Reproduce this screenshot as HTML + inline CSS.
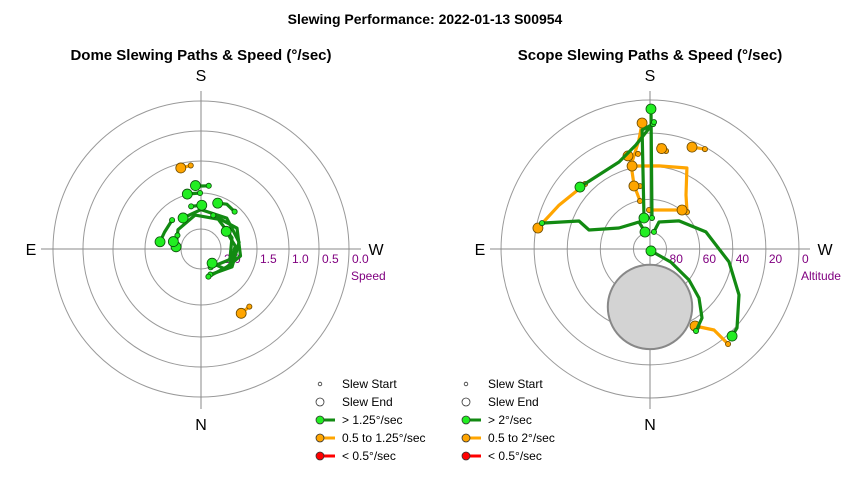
<!DOCTYPE html>
<html><head><meta charset="utf-8">
<style>
body{margin:0;background:#fff;}
svg text{font-family:"Liberation Sans",Arial,sans-serif;}
</style></head>
<body>
<svg id="chart" width="850" height="480" viewBox="0 0 850 480" xmlns="http://www.w3.org/2000/svg">
<rect width="850" height="480" fill="#fff"/>
<text x="425" y="24" font-size="14" font-weight="bold" text-anchor="middle">Slewing Performance: 2022-01-13 S00954</text>
<text x="201" y="60" font-size="15" font-weight="bold" text-anchor="middle">Dome Slewing Paths &amp; Speed (°/sec)</text>
<text x="650" y="60" font-size="15" font-weight="bold" text-anchor="middle">Scope Slewing Paths &amp; Speed (°/sec)</text>
<g id="dome"></g>
<g id="scope"></g>
<g id="legends"></g>
</svg>
<script>
// ---- Dome data: [azimuth deg, speed deg/sec]
const domeTickValues = [2.0, 1.5, 1.0, 0.5, 0.0];
const domeTickLabels = ["2.0", "1.5", "1.0", "0.5", "0.0"];
const domeOrangePaths = [
  [[173,1.06],[166,1.07]],
  [[320,1.2],[328,1.19]]
];
const domeGreenPaths = [
  [[187,1.38],[181,1.39],[175,1.38]],
  [[179,1.5],[166,1.49]],
  [[167,1.67],[181,1.67]],
  [[222,1.58],[210,1.56],[200,1.6]],
  [[135,1.71],[115,1.72],[100,1.7]],
  [[332,1.99],[290,1.85],[250,1.82],[210,1.8],[170,1.8],[130,1.86],[95,1.93]],
  [[340,1.9],[300,1.78],[260,1.74],[220,1.72],[180,1.73],[150,1.78]],
  [[345,1.88],[300,1.82],[265,1.8],[235,1.85]],
  [[120,1.9],[105,1.88]],
  [[200,1.78],[240,1.7],[280,1.72],[310,1.85],[322,2.05]]
];
// ---- Scope data: [azimuth deg, altitude deg]
const scopeTickValues = [80, 60, 40, 20, 0];
const scopeTickLabels = ["80", "60", "40", "20", "0"];
const scopeGreenPaths = [
  [[183.7,71.2],[180.4,5.4]],
  [[181.4,14.5],[176.2,17.9],[169,70.9]],
  [[330.7,33.2],[323,37.8],[315,48.1],[308.5,59.9],[302,75.1],[333,88.7]],
  [[193,79.4],[198.4,72.8],[226,65.6],[253,54.7],[279.3,41.6],[297.3,29.5],[312.2,19],[316.7,17.7]],
  [[103.5,22.9],[111.5,43.9],[107.3,51.4],[124.1,67.4],[157.8,72.4],[163.6,79.3]],
  [[181.8,13.3],[172.3,26.6],[160.4,34.2],[131.5,33.5]]
];
const scopeOrangePaths = [
  [[135,34.5],[115.8,29],[100.6,21.1]],
  [[320.6,15.7],[321.7,27.6],[329.7,36.1]],
  [[208.8,21.1],[202.4,23.4]],
  [[225,58.4],[213.7,50.8],[204.5,36.2],[186.2,39.5],[167.8,38.7]],
  [[168.2,60.4],[166,50.1],[167.3,38],[174.2,23.8],[176.4,13.7]],
  [[172.8,32.1],[166.7,32.2]],
  [[171,51.5],[165.7,50.7]],
  [[178.5,66.4],[211.6,62.3],[219.4,59.5]],
  [[189.3,30],[185,26.9],[186.6,28.9]]
];
const sunAz = 0, sunAlt = 55, sunRadiusDeg = 25.5;

const NS = "http://www.w3.org/2000/svg";
function mk(parent, tag, attrs){const e=document.createElementNS(NS,tag);for(const k in attrs)e.setAttribute(k,attrs[k]);parent.appendChild(e);return e;}

// axis functions
const dome = {cx:201, cy:249, ringR:[20,56,88,118,148]};
function domeR(v){
  const vals=domeTickValues, rr=dome.ringR;
  if(v>=vals[0]) return Math.max(0, rr[0]-(v-vals[0])*40);
  for(let i=0;i<vals.length-1;i++){ if(v<=vals[i]&&v>=vals[i+1]) return rr[i]+(vals[i]-v)/(vals[i]-vals[i+1])*(rr[i+1]-rr[i]); }
  return rr[rr.length-1];
}
const scope = {cx:650, cy:249, scale:1.655};
function scopeR(alt){ return (90-alt)*scope.scale; }
function pol(c, az, r){ const a=az*Math.PI/180; return [c.cx - r*Math.sin(a), c.cy + r*Math.cos(a)]; }

function drawFrame(g, c, radii, labels, axisName){
  radii.forEach((r,i)=>{
    const ring=mk(g,'circle',{cx:c.cx,cy:c.cy,r:r,fill:'none',stroke:'#999','stroke-width':1});
    
    
  });
  const R=160;
  const ax1=mk(g,'line',{x1:c.cx-R,y1:c.cy,x2:c.cx+R,y2:c.cy,stroke:'#888','stroke-width':1});
  
  
  const ax2=mk(g,'line',{x1:c.cx,y1:c.cy-R+2,x2:c.cx,y2:c.cy+R,stroke:'#888','stroke-width':1});
  
  
  const comp=[['S',c.cx,c.cy-168,'middle'],['N',c.cx,c.cy+181,'middle'],['E',c.cx-170,c.cy+6,'middle'],['W',c.cx+175,c.cy+6,'middle']];
  comp.forEach(k=>{
    const t=mk(g,'text',{x:k[1],y:k[2],'font-size':16,'text-anchor':k[3]});
    t.textContent=k[0];
    
    
  });
  radii.forEach((r,i)=>{
    const t=mk(g,'text',{x:c.cx+r+3,y:c.cy+14,'font-size':12,fill:'#800080'});
    t.textContent=labels[i];
    
    
  });
  const at=mk(g,'text',{x:c.cx+radii[radii.length-1]+2,y:c.cy+31,'font-size':12,fill:'#800080'});
  at.textContent=axisName;
  
  
}

function drawPaths(g, c, paths, rf, lineCol, fillCol, strokeCol, nm){
  paths.forEach((p,i)=>{
    const pts=p.map(d=>pol(c,d[0],rf(d[1])));
    const pl=mk(g,'polyline',{points:pts.map(q=>q[0].toFixed(1)+','+q[1].toFixed(1)).join(' '),fill:'none',stroke:lineCol,'stroke-width':3.2,'stroke-linejoin':'round','stroke-linecap':'round'});
    
    
  });
  paths.forEach((p,i)=>{
    const s=pol(c,p[0][0],rf(p[0][1])), e=pol(c,p[p.length-1][0],rf(p[p.length-1][1]));
    const ms=mk(g,'circle',{cx:s[0],cy:s[1],r:2.6,fill:fillCol,stroke:strokeCol,'stroke-width':0.8});
    
    
    const me=mk(g,'circle',{cx:e[0],cy:e[1],r:5,fill:fillCol,stroke:strokeCol,'stroke-width':0.8});
    
    
  });
}

const gd=document.getElementById('dome');
drawFrame(gd, dome, dome.ringR, domeTickLabels, 'Speed');
drawPaths(gd, dome, domeOrangePaths, domeR, '#ffa500', '#ffa500', '#6b4a00', 'dome-orange');
drawPaths(gd, dome, domeGreenPaths, domeR, '#128a12', '#22ee22', '#0b4f0b', 'dome-green');

const gs=document.getElementById('scope');
const sradii=scopeTickValues.map(scopeR);
drawFrame(gs, scope, sradii, scopeTickLabels, 'Altitude');
const sp=pol(scope,sunAz,scopeR(sunAlt));
const sun=mk(gs,'circle',{cx:sp[0],cy:sp[1],r:sunRadiusDeg*scope.scale,fill:'#d3d3d3',stroke:'#888','stroke-width':2});


drawPaths(gs, scope, scopeOrangePaths, scopeR, '#ffa500', '#ffa500', '#6b4a00', 'scope-orange');
drawPaths(gs, scope, scopeGreenPaths, scopeR, '#128a12', '#22ee22', '#0b4f0b', 'scope-green');

// legends
const legendLabelsDome = ["Slew Start","Slew End","> 1.25°/sec","0.5 to 1.25°/sec","< 0.5°/sec"];
const legendLabelsScope = ["Slew Start","Slew End","> 2°/sec","0.5 to 2°/sec","< 0.5°/sec"];
const lineCols=[null,null,'#128a12','#ffa500','#ff0000'];
const fillCols=['#fff','#fff','#22ee22','#ffa500','#ff0000'];
function legend(x, labels, nm){
  const gl=document.getElementById('legends');
  labels.forEach((lab,i)=>{
    const y=384+i*18;
    if(lineCols[i]){
      const ln=mk(gl,'line',{x1:x,y1:y,x2:x+15,y2:y,stroke:lineCols[i],'stroke-width':3});
      
      
    }
    const c=mk(gl,'circle',{cx:x,cy:y,r:i===0?1.8:4,fill:fillCols[i],stroke:'#333','stroke-width':0.8});
    
    
    const t=mk(gl,'text',{x:x+22,y:y+4,'font-size':12});
    t.textContent=lab;
    
    
  });
}
legend(320, legendLabelsDome, 'dome');
legend(466, legendLabelsScope, 'scope');
</script>
</body></html>
